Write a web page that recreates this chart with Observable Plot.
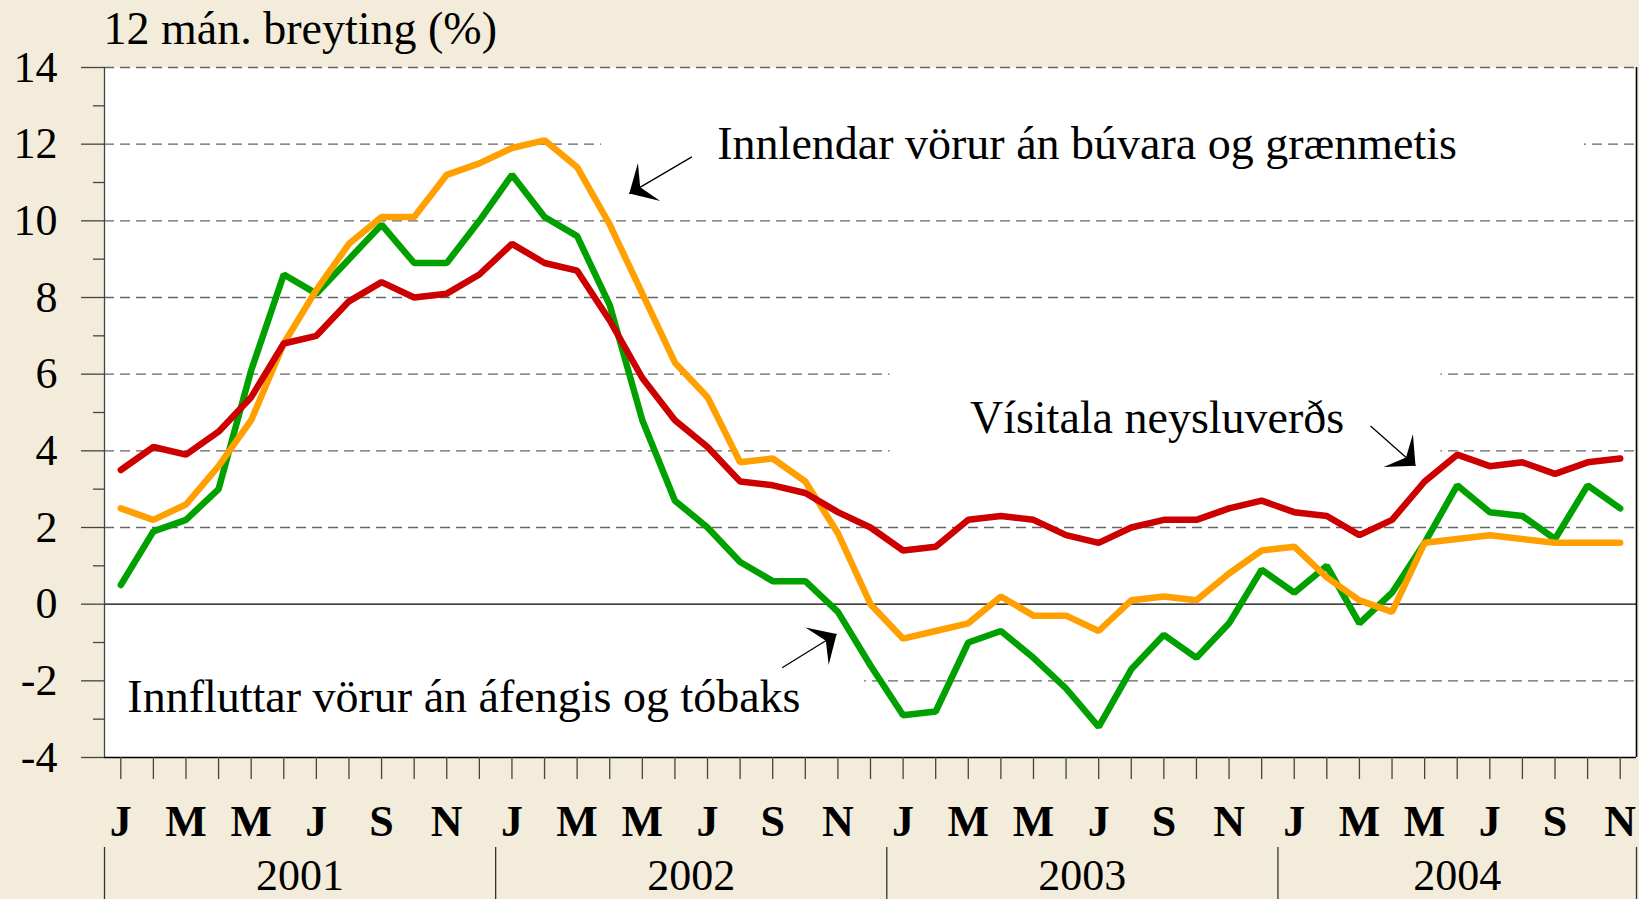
<!DOCTYPE html>
<html>
<head>
<meta charset="utf-8">
<script src="https://cdn.jsdelivr.net/npm/d3@7"></script>
<script src="https://cdn.jsdelivr.net/npm/@observablehq/plot@0.6"></script>
<style>
html, body { margin: 0; padding: 0; background: #F4ECDA; overflow: hidden; }
#chart svg { display: block; }
</style>
</head>
<body>
<div id="chart"></div>
<script>
// ---- Data ----
const monthLetters = [
  "J","F","M","A","M","J","J","A","S","O","N","D",
  "J","F","M","A","M","J","J","A","S","O","N","D",
  "J","F","M","A","M","J","J","A","S","O","N","D",
  "J","F","M","A","M","J","J","A","S","O","N"
];
const yearLabels = ["2001", "2002", "2003", "2004"];
const yearCenters = [5.5, 17.5, 29.5, 41];
const yearBounds = [-0.5, 11.5, 23.5, 35.5, 46.5];

// Vísitala neysluverðs (red)
const visitala = [
  3.5, 4.1, 3.9, 4.5, 5.4, 6.8, 7.0, 7.9, 8.4, 8.0, 8.1, 8.6,
  9.4, 8.9, 8.7, 7.4, 5.9, 4.8, 4.1, 3.2, 3.1, 2.9, 2.4, 2.0,
  1.4, 1.5, 2.2, 2.3, 2.2, 1.8, 1.6, 2.0, 2.2, 2.2, 2.5, 2.7,
  2.4, 2.3, 1.8, 2.2, 3.2, 3.9, 3.6, 3.7, 3.4, 3.7, 3.8
];
// Innfluttar vörur án áfengis og tóbaks (green)
const innfluttar = [
  0.5, 1.9, 2.2, 3.0, 6.1, 8.6, 8.1, 9.0, 9.9, 8.9, 8.9, 10.0,
  11.2, 10.1, 9.6, 7.8, 4.8, 2.7, 2.0, 1.1, 0.6, 0.6, -0.2, -1.6,
  -2.9, -2.8, -1.0, -0.7, -1.4, -2.2, -3.2, -1.7, -0.8, -1.4, -0.5, 0.9,
  0.3, 1.0, -0.5, 0.3, 1.6, 3.1, 2.4, 2.3, 1.7, 3.1, 2.5
];
// Innlendar vörur án búvara og grænmetis (orange)
const innlendar = [
  2.5, 2.2, 2.6, 3.6, 4.8, 6.8, 8.2, 9.4, 10.1, 10.1, 11.2, 11.5,
  11.9, 12.1, 11.4, 9.9, 8.1, 6.3, 5.4, 3.7, 3.8, 3.2, 1.85, 0.0,
  -0.9, -0.7, -0.5, 0.2, -0.3, -0.3, -0.7, 0.1, 0.2, 0.1, 0.8, 1.4,
  1.5, 0.7, 0.1, -0.2, 1.6, 1.7, 1.8, 1.7, 1.6, 1.6, 1.6
];

const yMajorTicks = [-4, -2, 0, 2, 4, 6, 8, 10, 12, 14];
const yMinorTicks = [-3, -1, 1, 3, 5, 7, 9, 11, 13];
const gridValues = [-2, 2, 4, 6, 8, 10, 12, 14];

const titleText = "12 mán. breyting (%)";

// Annotations (data coordinates: month index, percent)
const labelTexts = [
  {text: "Innlendar vörur án búvara og grænmetis", x: 18.3, y: 12.0},
  {text: "Vísitala neysluverðs", x: 26.05, y: 4.85},
  {text: "Innfluttar vörur án áfengis og tóbaks", x: 0.2, y: -2.44}
];
const labelBoxes = [
  {x1: 14.75, x2: 44.9, y1: 11.6, y2: 12.4},
  {x1: 23.6, x2: 40.5, y1: 3.7, y2: 6.3},
  {x1: -0.5, x2: 22.82, y1: -2.3, y2: -1.7}
];
const arrows = [
  {x1: 17.52, y1: 11.67, x2: 15.6, y2: 10.71},
  {x1: 38.34, y1: 4.65, x2: 39.72, y2: 3.61},
  {x1: 20.29, y1: -1.66, x2: 21.96, y2: -0.78}
];

// ---- Build ----
const toRows = (arr) => arr.map((v, i) => ({i, v}));
const rowsRed = toRows(visitala);
const rowsGreen = toRows(innfluttar);
const rowsOrange = toRows(innlendar);
const monthIdx = monthLetters.map((d, i) => i);

const stealth = {
  draw(context, size) {
    const r = Math.sqrt(size / Math.PI);
    context.moveTo(0, 0);
    context.lineTo(0.96 * r, r);
    context.lineTo(0, 0.55 * r);
    context.lineTo(-0.96 * r, r);
    context.closePath();
  }
};

const FONT = "'Liberation Serif', 'Times New Roman', Times, serif";

function build(angles) {
  return Plot.plot({
    width: 1639,
    height: 899,
    marginTop: 67,
    marginLeft: 104,
    marginRight: 3,
    marginBottom: 142,
    style: {background: "#F4ECDA", fontFamily: FONT, fontSize: "44px", color: "#000", overflow: "visible"},
    x: {domain: [-0.5, 46.5], label: null},
    y: {domain: [-4, 14], label: null},
    marks: [
      Plot.frame({fill: "white", stroke: null}),
      Plot.ruleY(gridValues, {stroke: "#666", strokeWidth: 1.3, strokeDasharray: "10,6"}),
      Plot.rect(labelBoxes, {x1: "x1", x2: "x2", y1: "y1", y2: "y2", fill: "white"}),
      Plot.ruleY([0], {stroke: "#000", strokeWidth: 1.3}),
      Plot.ruleX([-0.5], {stroke: "#444", strokeWidth: 1.3}),
      Plot.ruleX([46.5], {stroke: "#000", strokeWidth: 1.6}),
      Plot.ruleY([-4], {stroke: "#000", strokeWidth: 1.5}),
      Plot.axisY(yMajorTicks, {anchor: "left", tickSize: 23, tickPadding: 24, fontSize: 44,
        stroke: "#444", strokeWidth: 1.3, tickFormat: d => String(d), label: null}),
      Plot.axisY(yMinorTicks, {anchor: "left", tickSize: 11, stroke: "#444", strokeWidth: 1.3,
        tickFormat: () => "", label: null}),
      Plot.axisX(monthIdx, {anchor: "bottom", tickSize: 22, tickPadding: 25, fontSize: 44, fontWeight: "bold",
        stroke: "#444", strokeWidth: 1.3, tickFormat: i => (i % 2 === 0 ? monthLetters[i] : ""), label: null}),
      Plot.axisX(yearCenters, {anchor: "bottom", tickSize: 0, tickPadding: 101, fontSize: 44,
        tickFormat: d => yearLabels[yearCenters.indexOf(d)], label: null}),
      Plot.axisX(yearBounds, {anchor: "bottom", tickSize: 52, dy: 90, stroke: "#333", strokeWidth: 1.3,
        tickFormat: () => "", label: null}),
      Plot.line(rowsGreen, {x: "i", y: "v", stroke: "#00A000", strokeWidth: 6.5, strokeLinecap: "round", strokeLinejoin: "miter"}),
      Plot.line(rowsOrange, {x: "i", y: "v", stroke: "#FFA000", strokeWidth: 6.5, strokeLinecap: "round", strokeLinejoin: "miter"}),
      Plot.line(rowsRed, {x: "i", y: "v", stroke: "#CC0000", strokeWidth: 6.5, strokeLinecap: "round", strokeLinejoin: "miter"}),
      Plot.link(arrows, {x1: "x1", y1: "y1", x2: "x2", y2: "y2", stroke: "#000", strokeWidth: 1.3}),
      Plot.dot(arrows, {x: "x2", y: "y2", r: 23, symbol: stealth, fill: "#000", stroke: null,
        rotate: (d, i) => angles[i]}),
      Plot.text(labelTexts, {x: "x", y: "y", text: "text", textAnchor: "start", lineAnchor: "middle",
        fontSize: 46, fill: "#000"}),
      Plot.text([titleText], {text: d => d, frameAnchor: "top-left", dx: -1, dy: -38,
        textAnchor: "start", lineAnchor: "middle", fontSize: 46, fill: "#000"})
    ]
  });
}

const first = build(arrows.map(() => 0));
const sxD = first.scale("x"), syD = first.scale("y");
const sx = d3.scaleLinear(sxD.domain, sxD.range);
const sy = d3.scaleLinear(syD.domain, syD.range);
const angles = arrows.map(a => {
  const dx = sx(a.x2) - sx(a.x1);
  const dy = sy(a.y2) - sy(a.y1);
  return Math.atan2(dx, -dy) * 180 / Math.PI;
});
document.getElementById("chart").appendChild(build(angles));
</script>
</body>
</html>
